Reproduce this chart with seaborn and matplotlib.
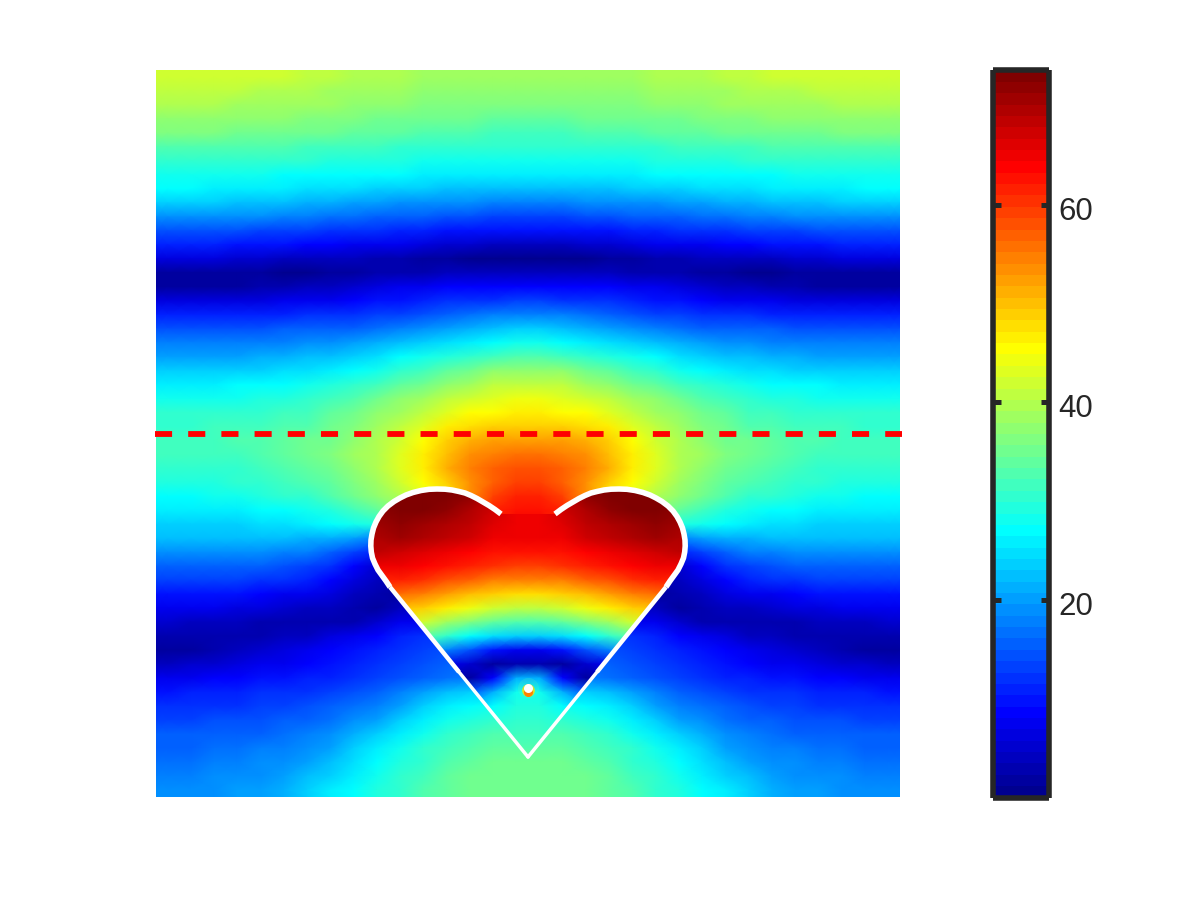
import numpy as np
import matplotlib
matplotlib.use("Agg")
import matplotlib.pyplot as plt
import matplotlib.transforms as mtrans
from matplotlib.colors import ListedColormap
from matplotlib.patches import Polygon
import seaborn as sns

# left half of the field outside the heart, rows top to bottom, columns from the edge to the centre line
field_left = [
    [42, 42.5, 42.5, 42, 41.5, 41.5, 41, 40.5, 40, 39.5, 39.5, 39, 38.5, 38.5, 38.5, 38.5],
    [41, 41, 41, 40.5, 40, 40, 39.5, 39, 38.5, 38, 38, 37.5, 37.5, 37, 37, 37],
    [39.5, 39.5, 39.5, 39, 38.5, 38.5, 38, 38, 37.5, 37, 37, 36.5, 36, 36, 36, 36],
    [37.5, 37.5, 37.5, 37.5, 37, 37, 36.5, 36.5, 36, 35.5, 35.5, 35, 34.5, 34.5, 34, 34],
    [36, 36, 36, 35.5, 35.5, 35, 35, 34.5, 34, 33.5, 33.5, 33, 32.5, 32.5, 32, 32],
    [33, 33, 33, 33, 32.5, 32.5, 32, 32, 31.5, 31.5, 31, 31, 30.5, 30.5, 30.5, 30.5],
    [30.5, 30.5, 30.5, 30.5, 30.5, 30, 30, 29.5, 29.5, 29, 29, 28.5, 28.5, 28, 28, 28],
    [28.5, 28.5, 28.5, 28, 28, 27.5, 27.5, 27, 27, 26.5, 26.5, 26, 26, 25.5, 25.5, 25.5],
    [26.5, 26.5, 26, 26, 25.5, 25.5, 25, 25, 24.5, 23.5, 23, 23, 22.5, 22, 22, 22],
    [23.5, 23.5, 23, 22.5, 22.5, 22, 21.5, 21, 20.5, 20, 19.5, 19, 18.5, 18.5, 18, 18],
    [19.5, 19.5, 19, 19, 18.5, 18, 17.5, 17, 16.5, 16, 15.5, 15, 14.5, 14, 13.5, 13.5],
    [14, 14, 14, 14, 13.5, 13.5, 13, 12.5, 12, 11.5, 11, 10.5, 10, 10, 9.5, 9.5],
    [10.5, 10.5, 10.5, 10, 10, 9.5, 9, 8.5, 8, 7.5, 7, 6, 5.5, 5, 4.5, 4.5],
    [6, 6, 6, 5.5, 5, 4.5, 4.5, 4, 3.5, 3, 2.5, 2, 1.5, 1, 1, 1],
    [2, 2, 2, 1.5, 1.5, 1, 1, 1.5, 2, 2.5, 3, 3, 3.5, 3.5, 3.5, 3.5],
    [1.5, 1.5, 1.5, 2, 2.5, 3, 3.5, 4.5, 5.5, 6, 7, 8, 8.5, 9, 9, 9],
    [6, 6, 6, 6, 6.5, 7, 7.5, 8, 9, 9.5, 10, 11, 11.5, 12, 12.5, 13],
    [11, 11, 11, 11, 11, 11, 11.5, 12, 12.5, 13, 13.5, 14.5, 15.5, 16.5, 17.5, 18],
    [14.5, 14.5, 14.5, 14.5, 14.5, 15, 15, 15.5, 16, 17, 18, 19, 20, 21.5, 22.5, 23],
    [17.5, 17.5, 17.5, 17.5, 18, 18, 18.5, 19, 20, 21, 22, 23.5, 25, 26, 27.5, 28],
    [20.5, 20.5, 20.5, 20.5, 21, 21, 22, 22.5, 24, 25, 26.5, 28, 29.5, 31, 32, 32.5],
    [24, 24, 24, 24, 24, 24.5, 25, 26, 27, 28.5, 30, 32, 33.5, 35.5, 37, 37.5],
    [26, 26, 26, 26.5, 26.5, 27, 28, 29, 30.5, 32, 33.5, 35.5, 37.5, 39, 40.5, 41],
    [28, 28, 28, 28.5, 29, 29.5, 30, 31.5, 33, 35, 37, 39, 41, 42.5, 43.5, 44],
    [30, 30, 30, 30.5, 31, 31.5, 32, 33.5, 35, 37, 39, 41, 43, 45, 45.5, 46],
    [31, 31, 31.5, 31.5, 32, 32.5, 33, 34.5, 36, 38, 40.5, 43.5, 46, 48, 49, 49],
    [32, 32, 32, 32.5, 33, 33.5, 34.5, 35.5, 37, 39.5, 42.5, 45, 49, 51, 52, 52.5],
    [31.5, 31.5, 32, 32, 33, 33.5, 34.5, 36, 38, 40, 43.5, 46, 50, 53, 55, 55.5],
    [30, 30, 30.5, 31, 32, 33, 34, 35.5, 37.5, 40, 43, 46, 51, 55, 57, 57.5],
    [29, 29, 29.5, 30, 30.5, 31.5, 32.5, 34, 36, 38.5, 41.5, 45, 49, 53, 57, 59],
    [27.5, 27.5, 28, 28.5, 29, 30, 31, 32.5, 34.5, 37, 40, 43.5, 47, 53, 59, 61],
    [26, 26, 26, 26, 26.5, 27, 28, 29.5, 31.5, 34, 37, 41.5, 47, 53, 61, 63],
    [24, 24, 24, 24, 24.5, 25, 26, 27, 28, 29, 32, 36, 40, 49, 59, 64.5],
    [22, 22, 22, 22, 22, 22, 21.5, 21, 20.5, 18, 18, 18, 18, 18, 18, 18],
    [19, 19, 19, 19, 18.5, 18, 17.5, 16, 13.5, 11, 11, 11, 11, 11, 11, 11],
    [16, 16, 16, 15.5, 15, 14.5, 13.5, 11.5, 8.5, 5, 5, 5, 5, 5, 5, 5],
    [13, 13, 13, 13, 12.5, 12, 10.5, 8.5, 6, 4, 3, 3, 3, 3, 3, 3],
    [10, 10, 10, 9.5, 9, 8, 7, 6, 4.5, 2.5, 2, 2, 2, 2, 2, 2],
    [7.5, 7.5, 7, 6.5, 6, 5.5, 4.5, 3.5, 2.5, 2, 3.5, 5, 5, 5, 5, 5],
    [5, 4.5, 4, 3.5, 3, 3, 2.5, 2.5, 3, 5, 7, 8, 8, 8, 8, 8],
    [3, 2.5, 2.5, 3, 3, 3.5, 4.5, 6, 7.5, 9, 10.5, 11.5, 12.5, 12.5, 12.5, 12.5],
    [1.5, 2, 3, 3.5, 5, 6, 7.5, 8.5, 10, 11, 12, 13, 14, 15, 15, 15],
    [4.5, 5, 5.5, 6.5, 7.5, 8, 9, 10, 11, 12, 13.5, 14.5, 15.5, 16, 16, 16],
    [7.5, 8, 8.5, 9, 9.5, 10, 10.5, 11, 12, 13, 14.5, 16, 17, 18, 18, 18],
    [10, 10.5, 11, 11, 11.5, 12, 12.5, 13, 14.5, 16, 18, 20.5, 22, 24, 24, 24],
    [12, 12, 12.5, 12.5, 13, 13.5, 14, 15, 16.5, 18, 20, 23, 25.5, 27, 28, 30],
    [13.5, 13.5, 14, 14, 14.5, 15, 16, 17, 18.5, 20.5, 23, 26, 28, 29, 30, 31],
    [15, 15, 15, 15.5, 16, 16.5, 17.5, 19, 21, 23.5, 26, 28.5, 30, 31.5, 32.5, 33],
    [16, 16, 16.5, 17, 17.5, 18, 19, 20.5, 23, 25.5, 28, 30, 31.5, 33, 33.5, 34],
    [17, 17, 17.5, 18, 18.5, 19, 20.5, 22, 24.5, 27, 29.5, 31, 32.5, 34, 34.5, 34.5],
    [18, 18, 18.5, 19, 19.5, 20.5, 22, 24, 26, 28, 30.5, 32, 33.5, 34.5, 34.5, 35],
    [19, 19, 19.5, 20, 20.5, 21.5, 23.5, 25.5, 27.5, 29, 31, 32.5, 34, 34.5, 35, 35],
]

# left half of the field inside the heart, starts at row 29 and column 8 of field_left
heart_left = [
    [73, 73, 73, 73, 73, 72, 65, 61],
    [72, 72.5, 73, 73, 73, 72, 67, 64],
    [71, 72, 72.5, 73, 72, 70, 67, 64.5],
    [70, 71, 72, 71, 70, 68.5, 66, 65],
    [69, 70, 70.5, 70, 68, 67, 65.5, 65],
    [66, 68, 67, 66, 65, 64, 63, 63],
    [63, 65.5, 65, 64, 62.5, 61, 60, 59.5],
    [59, 62, 62, 60.5, 58.5, 56.5, 55, 54.5],
    [55, 57, 56, 54.5, 52, 50, 48.5, 48],
    [51, 51, 50, 48.5, 46, 44, 42, 40.5],
    [44, 44, 44, 42, 39, 36, 34, 33],
    [36, 36, 36, 34, 30, 27, 24.5, 23.5],
    [24, 24, 24, 22, 18, 14, 9.5, 8],
    [10, 10, 10, 9, 7, 5, 1.5, 2.5],
    [3, 3, 3, 3, 3, 2, 9, 21],
    [6, 6, 6, 8, 12, 14, 21, 28],
    [12, 12, 12, 14, 18, 24, 26.5, 29.5],
    [14, 14, 14, 18, 23, 27.5, 29, 30.5],
    [18, 18, 18, 22, 26, 29, 30.5, 32],
    [20, 20, 20, 24, 28, 31, 32.5, 33],
    [22, 22, 22, 26, 30, 32, 33.5, 34.5],
]
color_min = 0
color_max = 73.6
cbar_ticks = [20, 40, 60]

# heart outline, left half, lateral position and depth
arc_x = [-2.7, -3.3, -3.9, -4.5, -5.1, -5.7, -6.3, -6.9, -7.6, -8.3, -9.1, -9.9, -10.7, -11.5, -12.2, -12.8,
         -13.4, -14, -14.5, -14.9, -15.2, -15.45, -15.6, -15.7, -15.72, -15.67, -15.55, -15.3, -15, -14.6, -14.2, -13.8]
arc_y = [44.4, 43.95, 43.55, 43.2, 42.85, 42.55, 42.3, 42.15, 42, 41.92, 41.9, 41.93, 42.05, 42.25, 42.5, 42.8,
         43.15, 43.6, 44.1, 44.65, 45.2, 45.8, 46.4, 47, 47.6, 48.2, 48.8, 49.4, 50, 50.55, 51.1, 51.7]
side_x = [-13.8, -6.9, 0]
side_y = [51.7, 60.2, 68.7]
line_x = [-37.3, 37.4]
line_y = [36.4, 36.4]
source_x = [0]
source_y = [61.8]

sns.set_theme(style="white")
plt.rcParams["font.family"] = ["Liberation Sans", "DejaVu Sans"]

W, H = 1200, 900
fig = plt.figure(figsize=(12, 9), dpi=100)
ax = fig.add_axes([156 / W, 1 - 797 / H, 744 / W, 727 / H])
cax = fig.add_axes([993 / W, 1 - 797.5 / H, 55.5 / W, 727 / H])

outer = np.array(field_left)
field = np.hstack([outer, outer[:, ::-1]])
inner = np.array(heart_left)
heart_field = np.hstack([inner, inner[:, ::-1]])

# 64 level jet with the blue/cyan/yellow/red knots at 1/8, 3/8, 5/8, 7/8
t = (np.arange(64) + 1) / 64
jet = ListedColormap(np.clip(np.c_[1.5 - abs(4 * t - 3), 1.5 - abs(4 * t - 2), 1.5 - abs(4 * t - 1)], 0, 1))

mesh = sns.heatmap(field, ax=ax, cmap=jet, vmin=color_min, vmax=color_max, cbar_ax=cax,
                   xticklabels=False, yticklabels=False, linewidths=0, rasterized=True).collections[0]

# colorbar with butt-ended frame and ticks on both sides
dark = "#262626"
cbar = mesh.colorbar
cbar.set_ticks(cbar_ticks)
cbar.outline.set_visible(False)
for name in ["left", "right", "top", "bottom"]:
    cax.spines[name].set_visible(True)
    cax.spines[name].set_linewidth(4)
    cax.spines[name].set_color(dark)
    cax.spines[name].set_capstyle("butt")
cax.set_axisbelow(False)
cax.tick_params(axis="y", direction="in", left=True, right=True, labelright=True, labelleft=False,
                length=6, width=3.6, color=dark, labelcolor=dark, labelsize=22.5, pad=7)
shift = mtrans.ScaledTranslation(0, -3.5 / 100, fig.dpi_scale_trans)
for lab in cax.get_yticklabels():
    lab.set_transform(lab.get_transform() + shift)

# overlay in lateral/depth units, smooth shading between the cell values
over = fig.add_axes(ax.get_position(), facecolor="none")
over.set_xlim(-37.2, 37.2)
over.set_ylim(72.7, 0)
over.axis("off")

ny, nx = field.shape
col_w = 74.4 / nx
row_h = 72.7 / ny
xc = -37.2 + col_w * (np.arange(nx) + 0.5)
yc = row_h * (np.arange(ny) + 0.5)
xn = np.r_[-37.2, xc, 37.2]
yn = np.r_[0, yc, 72.7]
over.pcolormesh(xn, yn, np.pad(field, 1, mode="edge"), shading="gouraud", cmap=jet,
                vmin=color_min, vmax=color_max, rasterized=True)

heart_mesh = over.pcolormesh(xc[8:24], yc[29:50], heart_field, shading="gouraud", cmap=jet,
                             vmin=color_min, vmax=color_max, rasterized=True)
poly_x = np.r_[arc_x, side_x[2], -np.array(arc_x)[::-1]]
poly_y = np.r_[arc_y, side_y[2], np.array(arc_y)[::-1]]
clip = Polygon(np.c_[poly_x, poly_y], closed=True, transform=over.transData, facecolor="none", edgecolor="none")
over.add_patch(clip)
heart_mesh.set_clip_path(clip)

for sign in [-1, 1]:
    sns.lineplot(x=sign * np.array(arc_x), y=arc_y, sort=False, estimator=None, ax=over,
                 color="white", linewidth=4, solid_capstyle="butt", zorder=4)
    sns.lineplot(x=sign * np.array(side_x[:2]), y=side_y[:2], sort=False, estimator=None, ax=over,
                 color="white", linewidth=3.2, solid_capstyle="butt", zorder=4)
    sns.lineplot(x=sign * np.array(side_x[1:]), y=side_y[1:], sort=False, estimator=None, ax=over,
                 color="white", linewidth=2.5, solid_capstyle="round", zorder=4)

over.plot(line_x, line_y, color="red", linewidth=4.2, dashes=(2.93, 2.76),
          dash_capstyle="butt", clip_on=False, zorder=5)

# point source with its small halo
over.scatter(source_x, source_y, s=230, color="#66ffaa", linewidths=0, alpha=0.18, zorder=3)
over.scatter(source_x, [source_y[0] + 0.15], s=85, color="#ffe000", linewidths=0, alpha=0.8, zorder=3)
over.scatter(source_x, [source_y[0] + 0.35], s=42, color="#ff8000", linewidths=0, zorder=3)
over.scatter(source_x, source_y, s=42, color="white", linewidths=0, zorder=3)

fig.savefig("out.png", dpi=100)
